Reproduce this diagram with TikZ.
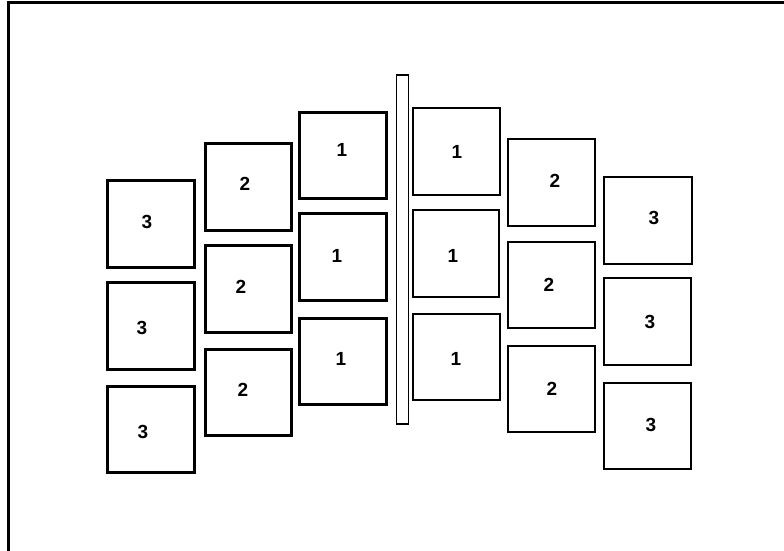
\documentclass[tikz,border=0pt]{standalone}
\usepackage{fontspec}
\setmainfont{Liberation Sans}
\begin{document}
\begin{tikzpicture}[x=1pt,y=-1pt,
  boxL/.style={draw=black,line width=3pt,fill=white},
  boxR/.style={draw=black,line width=1.8pt,fill=white},
  lbl/.style={font=\fontsize{19}{19}\selectfont\bfseries,inner sep=0pt}]
\useasboundingbox (0,0) rectangle (784,550);
\fill[white] (0,0) rectangle (784,550);
\coordinate (fa) at (8.5,552);
\coordinate (fb) at (8.5,2.5);
\coordinate (fc) at (786,2.5);
\draw[line width=3pt] (fa) -- (fb) -- (fc);
% left column 3
\draw[boxL] (107,180) rectangle (194,267);
\draw[boxL] (107,282) rectangle (194,369);
\draw[boxL] (107,386) rectangle (194,472);
% left column 2
\draw[boxL] (205,143) rectangle (291,230);
\draw[boxL] (205,245) rectangle (291,332);
\draw[boxL] (205,349) rectangle (291,435);
% left column 1
\draw[boxL] (299,112) rectangle (386,198);
\draw[boxL] (299,213) rectangle (386,300);
\draw[boxL] (299,318) rectangle (386,404);
% bar
\draw[boxR] (396.5,75) rectangle (408.5,424);
% right column 1
\draw[boxR] (413,108) rectangle (500,195);
\draw[boxR] (413,210) rectangle (499,297);
\draw[boxR] (413,314) rectangle (500,400);
% right column 2
\draw[boxR] (508,139) rectangle (595,226);
\draw[boxR] (508,242) rectangle (595,328);
\draw[boxR] (508,346) rectangle (595,432);
% right column 3
\draw[boxR] (604,177) rectangle (692,264);
\draw[boxR] (604,278) rectangle (691,365);
\draw[boxR] (604,383) rectangle (691,469);
% labels
\node[lbl] (l31) at (147,222) {3};
\node[lbl] (l32) at (142,328) {3};
\node[lbl] (l33) at (143,432) {3};
\node[lbl] (l21) at (245,184) {2};
\node[lbl] (l22) at (241,287) {2};
\node[lbl] (l23) at (243,390) {2};
\node[lbl] (l11) at (342,150) {1};
\node[lbl] (l12) at (337,256) {1};
\node[lbl] (l13) at (341,359) {1};
\node[lbl] (r11) at (457,152) {1};
\node[lbl] (r12) at (453,256) {1};
\node[lbl] (r13) at (456,359) {1};
\node[lbl] (r21) at (555,181) {2};
\node[lbl] (r22) at (549,285) {2};
\node[lbl] (r23) at (552,389) {2};
\node[lbl] (r31) at (654,218) {3};
\node[lbl] (r32) at (650,322) {3};
\node[lbl] (r33) at (651,425) {3};
\end{tikzpicture}
\end{document}
